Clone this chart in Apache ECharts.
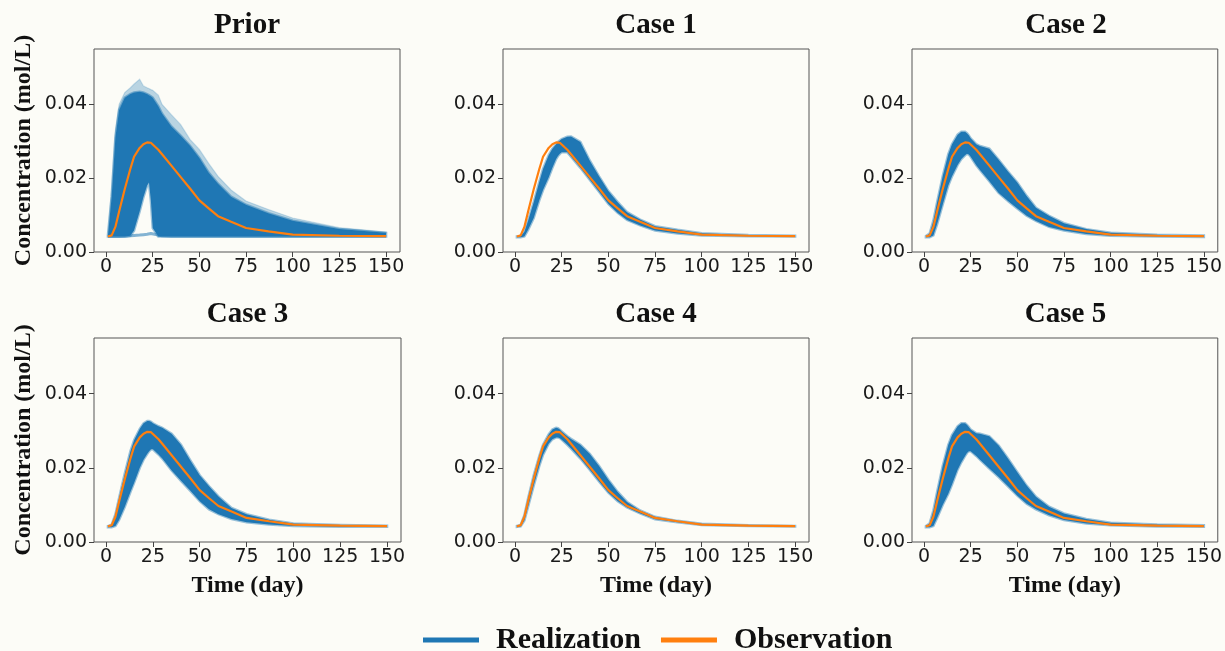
<!DOCTYPE html>
<html>
<head>
<meta charset="utf-8">
<script src="https://cdn.jsdelivr.net/npm/echarts@6/dist/echarts.min.js"></script>
<style>
  html, body { margin: 0; padding: 0; background: #fcfcf7; }
  #chart { width: 1225px; height: 651px; }
</style>
</head>
<body>
<div id="chart"></div>
<script>
// Sampling times (day) shared by every curve
const T = [1, 3, 5, 7, 10, 13, 15, 18, 20, 22, 23, 24, 25, 28, 30, 35, 40, 45, 50, 55, 60, 67, 75, 87, 100, 125, 150];

// Observed breakthrough curve (mol/L)
const observation = [0.0042, 0.0045, 0.0068, 0.0110, 0.0170, 0.0225, 0.0258, 0.0282, 0.0292, 0.0297, 0.0297, 0.0296, 0.0294, 0.0277, 0.0265, 0.0234, 0.0203, 0.0172, 0.0140, 0.0118, 0.0097, 0.0082, 0.0065, 0.0056, 0.0047, 0.0044, 0.0043];

// Prior ensemble: dense upper edge, outermost strands, and lower edge of the main body
const priorHi   = [0.0045, 0.0150, 0.0310, 0.0385, 0.0418, 0.0428, 0.0432, 0.0434, 0.0432, 0.0428, 0.0425, 0.0422, 0.0418, 0.0395, 0.0375, 0.0340, 0.0315, 0.0288, 0.0255, 0.0215, 0.0185, 0.0150, 0.0128, 0.0105, 0.0085, 0.0062, 0.0052];
const priorEdge = [0.0046, 0.0170, 0.0330, 0.0400, 0.0432, 0.0445, 0.0455, 0.0468, 0.0450, 0.0445, 0.0443, 0.0440, 0.0438, 0.0425, 0.0400, 0.0372, 0.0345, 0.0305, 0.0278, 0.0240, 0.0205, 0.0168, 0.0138, 0.0115, 0.0092, 0.0066, 0.0054];
const priorLo   = [0.0042, 0.0042, 0.0042, 0.0042, 0.0042, 0.0044, 0.0058, 0.0110, 0.0148, 0.0180, 0.0188, 0.0140, 0.0065, 0.0042, 0.0042, 0.0042, 0.0042, 0.0042, 0.0042, 0.0042, 0.0042, 0.0042, 0.0042, 0.0042, 0.0042, 0.0042, 0.0042];
// late-arriving realizations that stay near background concentration
const priorLate = [0.0042, 0.0042, 0.0042, 0.0042, 0.0043, 0.0044, 0.0045, 0.0046, 0.0047, 0.0048, 0.0049, 0.0050, 0.0050, 0.0046, 0.0044, 0.0043, 0.0043, 0.0043, 0.0043, 0.0043, 0.0043, 0.0043, 0.0043, 0.0043, 0.0043, 0.0043, 0.0043];

// Updated ensembles: upper and lower edges
const case1Hi = [0.0042, 0.0043, 0.0055, 0.0085, 0.0135, 0.0190, 0.0225, 0.0262, 0.0280, 0.0292, 0.0298, 0.0302, 0.0306, 0.0312, 0.0313, 0.0298, 0.0248, 0.0205, 0.0165, 0.0135, 0.0108, 0.0088, 0.0070, 0.0060, 0.0051, 0.0046, 0.0044];
const case1Lo = [0.0040, 0.0040, 0.0042, 0.0060, 0.0092, 0.0140, 0.0168, 0.0202, 0.0228, 0.0252, 0.0260, 0.0266, 0.0270, 0.0270, 0.0258, 0.0228, 0.0196, 0.0163, 0.0130, 0.0106, 0.0087, 0.0072, 0.0058, 0.0050, 0.0045, 0.0043, 0.0042];

const case2Hi = [0.0043, 0.0050, 0.0085, 0.0135, 0.0205, 0.0265, 0.0292, 0.0318, 0.0326, 0.0326, 0.0322, 0.0316, 0.0308, 0.0292, 0.0287, 0.0280, 0.0250, 0.0218, 0.0188, 0.0152, 0.0120, 0.0098, 0.0078, 0.0062, 0.0052, 0.0047, 0.0045];
const case2Lo = [0.0040, 0.0040, 0.0045, 0.0075, 0.0128, 0.0180, 0.0205, 0.0236, 0.0252, 0.0262, 0.0266, 0.0264, 0.0258, 0.0235, 0.0222, 0.0192, 0.0160, 0.0138, 0.0118, 0.0098, 0.0084, 0.0068, 0.0058, 0.0049, 0.0044, 0.0042, 0.0041];

const case3Hi = [0.0043, 0.0047, 0.0075, 0.0120, 0.0185, 0.0245, 0.0275, 0.0305, 0.0320, 0.0326, 0.0326, 0.0324, 0.0320, 0.0312, 0.0308, 0.0292, 0.0262, 0.0220, 0.0180, 0.0150, 0.0123, 0.0092, 0.0075, 0.0060, 0.0050, 0.0046, 0.0044];
const case3Lo = [0.0040, 0.0040, 0.0043, 0.0060, 0.0095, 0.0135, 0.0160, 0.0200, 0.0222, 0.0238, 0.0245, 0.0250, 0.0250, 0.0236, 0.0225, 0.0193, 0.0165, 0.0138, 0.0110, 0.0088, 0.0075, 0.0062, 0.0053, 0.0047, 0.0043, 0.0041, 0.0041];

const case4Hi = [0.0043, 0.0046, 0.0072, 0.0118, 0.0180, 0.0232, 0.0262, 0.0290, 0.0303, 0.0308, 0.0307, 0.0303, 0.0298, 0.0285, 0.0278, 0.0262, 0.0238, 0.0205, 0.0168, 0.0135, 0.0108, 0.0085, 0.0068, 0.0057, 0.0049, 0.0045, 0.0043];
const case4Lo = [0.0041, 0.0042, 0.0058, 0.0095, 0.0152, 0.0205, 0.0235, 0.0265, 0.0277, 0.0282, 0.0282, 0.0280, 0.0276, 0.0262, 0.0252, 0.0225, 0.0195, 0.0163, 0.0133, 0.0110, 0.0093, 0.0077, 0.0061, 0.0053, 0.0046, 0.0043, 0.0042];

const case5Hi = [0.0043, 0.0050, 0.0085, 0.0135, 0.0205, 0.0262, 0.0288, 0.0312, 0.0320, 0.0320, 0.0316, 0.0310, 0.0303, 0.0293, 0.0292, 0.0285, 0.0260, 0.0225, 0.0188, 0.0152, 0.0122, 0.0095, 0.0077, 0.0062, 0.0052, 0.0047, 0.0045];
const case5Lo = [0.0040, 0.0040, 0.0043, 0.0065, 0.0100, 0.0130, 0.0155, 0.0195, 0.0215, 0.0232, 0.0240, 0.0245, 0.0245, 0.0232, 0.0222, 0.0198, 0.0175, 0.0150, 0.0125, 0.0103, 0.0088, 0.0072, 0.0059, 0.0050, 0.0045, 0.0042, 0.0041];

const panelTitles = ['Prior', 'Case 1', 'Case 2', 'Case 3', 'Case 4', 'Case 5'];
const xTicks = [0, 25, 50, 75, 100, 125, 150];
const yTicks = [0, 0.02, 0.04];

const bands = [
  [priorHi, priorLo], [case1Hi, case1Lo], [case2Hi, case2Lo],
  [case3Hi, case3Lo], [case4Hi, case4Lo], [case5Hi, case5Lo]
];

// ---- layout ----
const BLUE = '#1f77b4', ORANGE = '#ff7f0e';
const SERIF = '"Liberation Serif", "Times New Roman", serif';
const SANS = '"DejaVu Sans", sans-serif';
const grids = [
  { left: 94,  top: 49,  width: 306, height: 203 },
  { left: 503, top: 49,  width: 306, height: 203 },
  { left: 912, top: 49,  width: 308, height: 203 },
  { left: 94,  top: 338, width: 307, height: 204 },
  { left: 503, top: 338, width: 306, height: 204 },
  { left: 912, top: 338, width: 307, height: 204 }
];

const chart = echarts.init(document.getElementById('chart'), null, { renderer: 'canvas' });

// filled region between two curves, projected through the panel's axes
function bandSeries(gi, hi, lo, fill, stroke, lw, z) {
  return {
    type: 'custom',
    name: 'Realization',
    xAxisIndex: gi, yAxisIndex: gi,
    silent: true, z: z,
    data: T.map((t, i) => [t, lo[i], hi[i]]),
    encode: { x: 0, y: [1, 2] },
    renderItem: function (params, api) {
      if (params.dataIndex !== 0) return null;
      const top = T.map((t, i) => api.coord([t, hi[i]]));
      const bot = T.map((t, i) => api.coord([t, lo[i]])).reverse();
      return {
        type: 'polygon',
        shape: { points: top.concat(bot) },
        style: { fill: fill, stroke: stroke, lineWidth: lw }
      };
    }
  };
}

function lineSeries(gi, values, name, color, width, z) {
  return {
    type: 'line', name: name,
    xAxisIndex: gi, yAxisIndex: gi,
    data: T.map((t, i) => [t, values[i]]),
    showSymbol: false, symbol: 'none', silent: true, z: z,
    lineStyle: { color: color, width: width },
    itemStyle: { color: color }
  };
}

const series = [];
bands.forEach(([hi, lo], gi) => {
  if (gi === 0) {
    series.push(bandSeries(0, priorEdge, priorHi, 'rgba(31,119,180,0.30)', 'rgba(31,119,180,0.2)', 1.2, 2));
    series.push(lineSeries(0, priorLate, 'Realization', 'rgba(31,119,180,0.55)', 3, 3));
  }
  series.push(bandSeries(gi, hi, lo, BLUE, 'rgba(31,119,180,0.45)', 2.5, 3));
  series.push(lineSeries(gi, observation, 'Observation', ORANGE, 2.2, 5));
});

const xAxes = grids.map((g, i) => ({
  type: 'value', gridIndex: i, min: -6.45, max: 157.45,
  axisLine: { show: false, onZero: false },
  splitLine: { show: false },
  axisTick: { show: true, length: 5, inside: false, customValues: xTicks,
              lineStyle: { color: '#444', width: 1 } },
  axisLabel: { customValues: xTicks, margin: 6, color: '#1a1a1a',
               fontFamily: SANS, fontSize: 19 },
  name: i >= 3 ? 'Time (day)' : '',
  nameLocation: 'middle', nameGap: 32,
  nameTextStyle: { fontFamily: SERIF, fontWeight: 'bold', fontSize: 24, color: '#111' }
}));

const yAxes = grids.map((g, i) => ({
  type: 'value', gridIndex: i, min: 0, max: 0.055,
  axisLine: { show: false, onZero: false },
  splitLine: { show: false },
  axisTick: { show: true, length: 5, inside: false, customValues: yTicks,
              lineStyle: { color: '#444', width: 1 } },
  axisLabel: { customValues: yTicks, margin: 7, color: '#1a1a1a',
               fontFamily: SANS, fontSize: 19,
               formatter: v => v.toFixed(2) },
  name: (i % 3 === 0) ? 'Concentration (mol/L)' : '',
  nameLocation: 'middle', nameGap: 58, nameRotate: 90,
  nameTextStyle: { fontFamily: SERIF, fontWeight: 'bold', fontSize: 24, color: '#111' }
}));

const titleGraphics = panelTitles.map((txt, i) => ({
  type: 'text',
  x: grids[i].left + grids[i].width / 2,
  y: grids[i].top - 23,
  silent: true,
  style: { text: txt, align: 'center', verticalAlign: 'middle',
           font: 'bold 29px ' + SERIF, fill: '#111' }
}));

chart.setOption({
  backgroundColor: '#fcfcf7',
  animation: false,
  grid: grids.map(g => Object.assign({ show: true, borderColor: '#555', borderWidth: 1,
                                       backgroundColor: 'transparent' }, g)),
  xAxis: xAxes,
  yAxis: yAxes,
  graphic: titleGraphics,
  legend: {
    left: 418, top: 620,
    itemWidth: 56, itemHeight: 5, itemGap: 20,
    icon: 'rect',
    textStyle: { fontFamily: SERIF, fontWeight: 'bold', fontSize: 30, color: '#111',
                 padding: [0, 0, 0, 12] },
    data: [
      { name: 'Realization', icon: 'rect', itemStyle: { color: BLUE } },
      { name: 'Observation', icon: 'rect', itemStyle: { color: ORANGE } }
    ]
  },
  series: series
});
</script>
</body>
</html>
